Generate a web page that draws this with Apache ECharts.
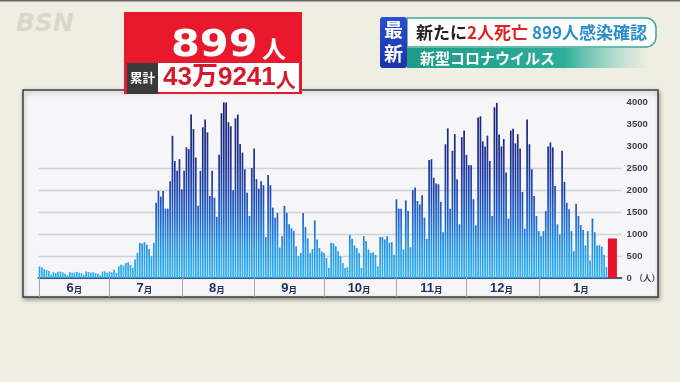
<!DOCTYPE html>
<html><head><meta charset="utf-8">
<script src="https://cdn.jsdelivr.net/npm/echarts@6/dist/echarts.min.js"></script>
<style>html,body{margin:0;padding:0;background:#efeee2}#c{width:680px;height:382px}</style>
</head><body><div id="c"></div>
<script>
// ---- data (daily new cases) ----
const startDate = '2022-06-01';
const padDays = 5; // empty slots after the last day
const jun = [262,238,200,183,159,80,130,110,140,143,127,95,60,135,120,125,140,120,110,70,150,135,120,130,110,100,65,145,150,120];
const jul = [150,130,190,115,265,300,280,340,360,300,230,420,570,800,785,815,760,660,495,800,1710,1980,1850,1980,1575,1575,2200,3230,2660,2435,2700];
const aug = [2015,2435,2970,2930,3715,3385,2740,1640,2435,3425,3600,3310,1865,2435,1825,1390,2800,3745,3990,3990,3540,3450,1995,3630,3715,3045,2850,2470,1940,1410,2500];
const sep = [2945,2245,2030,2200,2110,930,2340,2110,1600,1370,1480,690,950,1640,1480,1220,1130,1070,720,495,570,1480,1160,900,570,660,1310,875,680,600];
const oct = [570,455,230,800,785,720,610,495,340,230,245,975,890,740,685,570,230,950,840,650,570,585,530,265,930,930,875,950,800,815,530];
const nov = [1790,1575,1575,650,1765,1520,700,1995,2055,1750,1675,1880,1370,890,2680,2700,2280,2145,2130,1730,1040,3040,3400,1575,2890,3270,2245,1220,3200,3350];
const dec = [2800,2565,2565,1790,1195,3650,3675,3105,2990,3235,2660,1410,3880,3980,3260,2990,3160,2400,1350,3350,3390,3060,3270,2945,1955,1120,3600,3040,2470,1865,1410];
const jan = [1065,950,1065,1520,2990,3080,2970,2090,1220,990,2890,2185,1710,1560,1065,610,1690,1410,1200,1090,740,1065,400,1350,1040,740,745,710,530,250];
const latestDate = '2023-01-31';
const latestValue = 899;
const yTicks = [0,500,1000,1500,2000,2500,3000,3500,4000];
const labelDay = {6:16,7:16,8:16,9:16,10:16,11:16,12:16,1:19};
const headline = {today:'899', unit:'人', totalLabel:'累計', total:'43万9241', totalUnit:'人'};

// ---- build categories ----
const history = [].concat(jun,jul,aug,sep,oct,nov,dec,jan);
const totalDays = history.length + 1 + padDays;
const categories = [];
const d0 = new Date(startDate + 'T00:00:00Z');
for (let i = 0; i < totalDays; i++) {
  const d = new Date(d0.getTime() + i*86400000);
  categories.push(d.getUTCFullYear() + '-' + String(d.getUTCMonth()+1).padStart(2,'0') + '-' + String(d.getUTCDate()).padStart(2,'0'));
}
const latestIdx = categories.indexOf(latestDate);
const blueData = categories.map((c,i) => i < history.length ? history[i] : null);
const redData = categories.map((c,i) => i === latestIdx ? latestValue : null);

const chart = echarts.init(document.getElementById('c'), null, {renderer:'canvas'});
const grad = {type:'linear', x:0, y:278, x2:0, y2:102, global:true, colorStops:[
  {offset:0, color:'#2bb3f0'},
  {offset:0.18, color:'#2494e4'},
  {offset:0.32, color:'#1f6bcf'},
  {offset:0.46, color:'#1f4db5'},
  {offset:0.65, color:'#1d3396'},
  {offset:1, color:'#1a1f70'}
]};
const cjk = "'Noto Sans CJK JP', sans-serif";
chart.setOption({
  animation:false,
  backgroundColor:'#efeee2',
  grid:{left:38.3, right:58.4, top:102, bottom:104},
  xAxis:{
    type:'category', data:categories, boundaryGap:true,
    axisLine:{lineStyle:{color:'#1f2b5c', width:1.5}},
    axisTick:{show:true, alignWithLabel:true, length:19, interval:(i,v)=> v.slice(8)==='01' && i < latestIdx, lineStyle:{color:'#a6a8b0', width:1}},
    axisLabel:{
      interval:(i,v)=> { const m = +v.slice(5,7), dd = +v.slice(8); return i <= latestIdx && labelDay[m] === dd; },
      margin:4,
      formatter:(v)=> '{n|' + (+v.slice(5,7)) + '}{m|月}',
      rich:{
        n:{fontSize:13, fontWeight:'bold', color:'#1e2d5c', fontFamily:"'Liberation Sans', Arial, sans-serif"},
        m:{fontSize:8.5, fontWeight:'bold', color:'#1e2d5c', fontFamily:cjk, padding:[2,0,0,0]}
      }
    },
    splitLine:{show:false}
  },
  yAxis:{
    type:'value', position:'right', min:0, max:4000, interval:500,
    axisLine:{show:false}, axisTick:{show:false},
    axisLabel:{margin:5, fontSize:9.5, fontWeight:'bold', color:'#3a3f55', fontFamily:"'Liberation Sans', Arial, sans-serif",
      formatter:(v)=> v === 0 ? '0 {u|（人）}' : String(v),
      rich:{u:{fontSize:8.5, color:'#3a3f55', fontFamily:cjk}}},
    splitLine:{lineStyle:{color:yTicks.map(t => t <= 2500 ? '#d2d3d8' : 'rgba(0,0,0,0)'), width:1.3}}
  },
  series:[
    {name:'最新', type:'bar', data:redData, barWidth:9, barGap:'-100%', itemStyle:{color:'#e5162a'}},
    {name:'感染確認', type:'bar', data:blueData, barWidth:1.7, barGap:'-100%', itemStyle:{color:grad}}
  ],
  graphic:[
    {type:'rect', z:-10, shape:{x:0, y:0, width:680, height:1.5}, style:{fill:'#666'}},
    {type:'text', z:-10, x:16, y:24, style:{text:'BSN', fontSize:25, fontWeight:'bold', fontStyle:'italic', fontFamily:"'DejaVu Sans', sans-serif", fill:'rgba(175,175,165,0.35)', textVerticalAlign:'middle'}},
    {type:'rect', z:-10, shape:{x:23, y:90, width:635, height:207}, style:{fill:'#f6f6f8', stroke:'#3d3d3d', lineWidth:1.5, shadowBlur:4, shadowOffsetX:1, shadowOffsetY:2, shadowColor:'rgba(0,0,0,0.35)'}},
    // red headline box
    {type:'rect', z:100, shape:{x:124, y:12, width:178, height:82}, style:{fill:'#e8192c'}},
    {type:'text', z:101, x:171, y:46, scaleX:1.12, style:{text:headline.today, fontSize:37, fontWeight:'bold', fontFamily:"'DejaVu Sans', sans-serif", fill:'#fff', textVerticalAlign:'middle'}},
    {type:'text', z:101, x:262, y:49, style:{text:headline.unit, fontSize:24, fontWeight:'bold', fontFamily:cjk, fill:'#fff', textVerticalAlign:'middle'}},
    {type:'rect', z:101, shape:{x:127, y:63, width:31, height:31}, style:{fill:'#3b3b3b'}},
    {type:'text', z:102, x:142.5, y:78, style:{text:headline.totalLabel, fontSize:12.5, fontWeight:'bold', fontFamily:cjk, fill:'#fff', textAlign:'center', textVerticalAlign:'middle'}},
    {type:'rect', z:101, shape:{x:158, y:63, width:141, height:29}, style:{fill:'#ffffff'}},
    {type:'text', z:102, x:163, y:78, style:{text:'{n|' + headline.total + '}{u|' + headline.totalUnit + '}', textVerticalAlign:'middle',
      rich:{n:{fontSize:26, fontWeight:'bold', fill:'#d8182b', fontFamily:"'Liberation Sans', " + cjk},
            u:{fontSize:20, fontWeight:'bold', fill:'#d8182b', fontFamily:cjk, padding:[4,0,0,0]}}}},
    // right banner
    {type:'rect', z:100, shape:{x:407, y:18, width:249, height:29, r:[0,10,10,0]}, style:{fill:'#ffffff', stroke:'#3aa898', lineWidth:1.5}},
    {type:'rect', z:100, shape:{x:407, y:48, width:242, height:20}, style:{fill:{type:'linear', x:0, y:0, x2:1, y2:0, colorStops:[
      {offset:0, color:'#1c9b89'}, {offset:0.65, color:'#2eae9a'}, {offset:1, color:'rgba(120,200,185,0)'}]}}},
    {type:'rect', z:101, shape:{x:380, y:17, width:27, height:51, r:3}, style:{fill:{type:'linear', x:0, y:0, x2:0, y2:1, colorStops:[
      {offset:0, color:'#2a4fd0'}, {offset:1, color:'#1a33a6'}]}}},
    {type:'text', z:102, x:393.5, y:30, style:{text:'最', fontSize:19, fontWeight:'bold', fontFamily:cjk, fill:'#fff', textAlign:'center', textVerticalAlign:'middle'}},
    {type:'text', z:102, x:393.5, y:54, style:{text:'新', fontSize:19, fontWeight:'bold', fontFamily:cjk, fill:'#fff', textAlign:'center', textVerticalAlign:'middle'}},
    {type:'text', z:102, x:416, y:33, style:{text:'{a|新たに}{b|2人死亡}{c| 899人感染確認}', textVerticalAlign:'middle',
      rich:{a:{fontSize:17, fontWeight:'bold', fill:'#222', fontFamily:cjk},
            b:{fontSize:17, fontWeight:'bold', fill:'#e02424', fontFamily:cjk},
            c:{fontSize:17, fontWeight:'bold', fill:'#2a8cc9', fontFamily:cjk}}}},
    {type:'text', z:102, x:420, y:58.5, style:{text:'新型コロナウイルス', fontSize:15, fontWeight:'bold', fontFamily:cjk, fill:'#fff', textVerticalAlign:'middle'}}
  ]
});
</script></body></html>
